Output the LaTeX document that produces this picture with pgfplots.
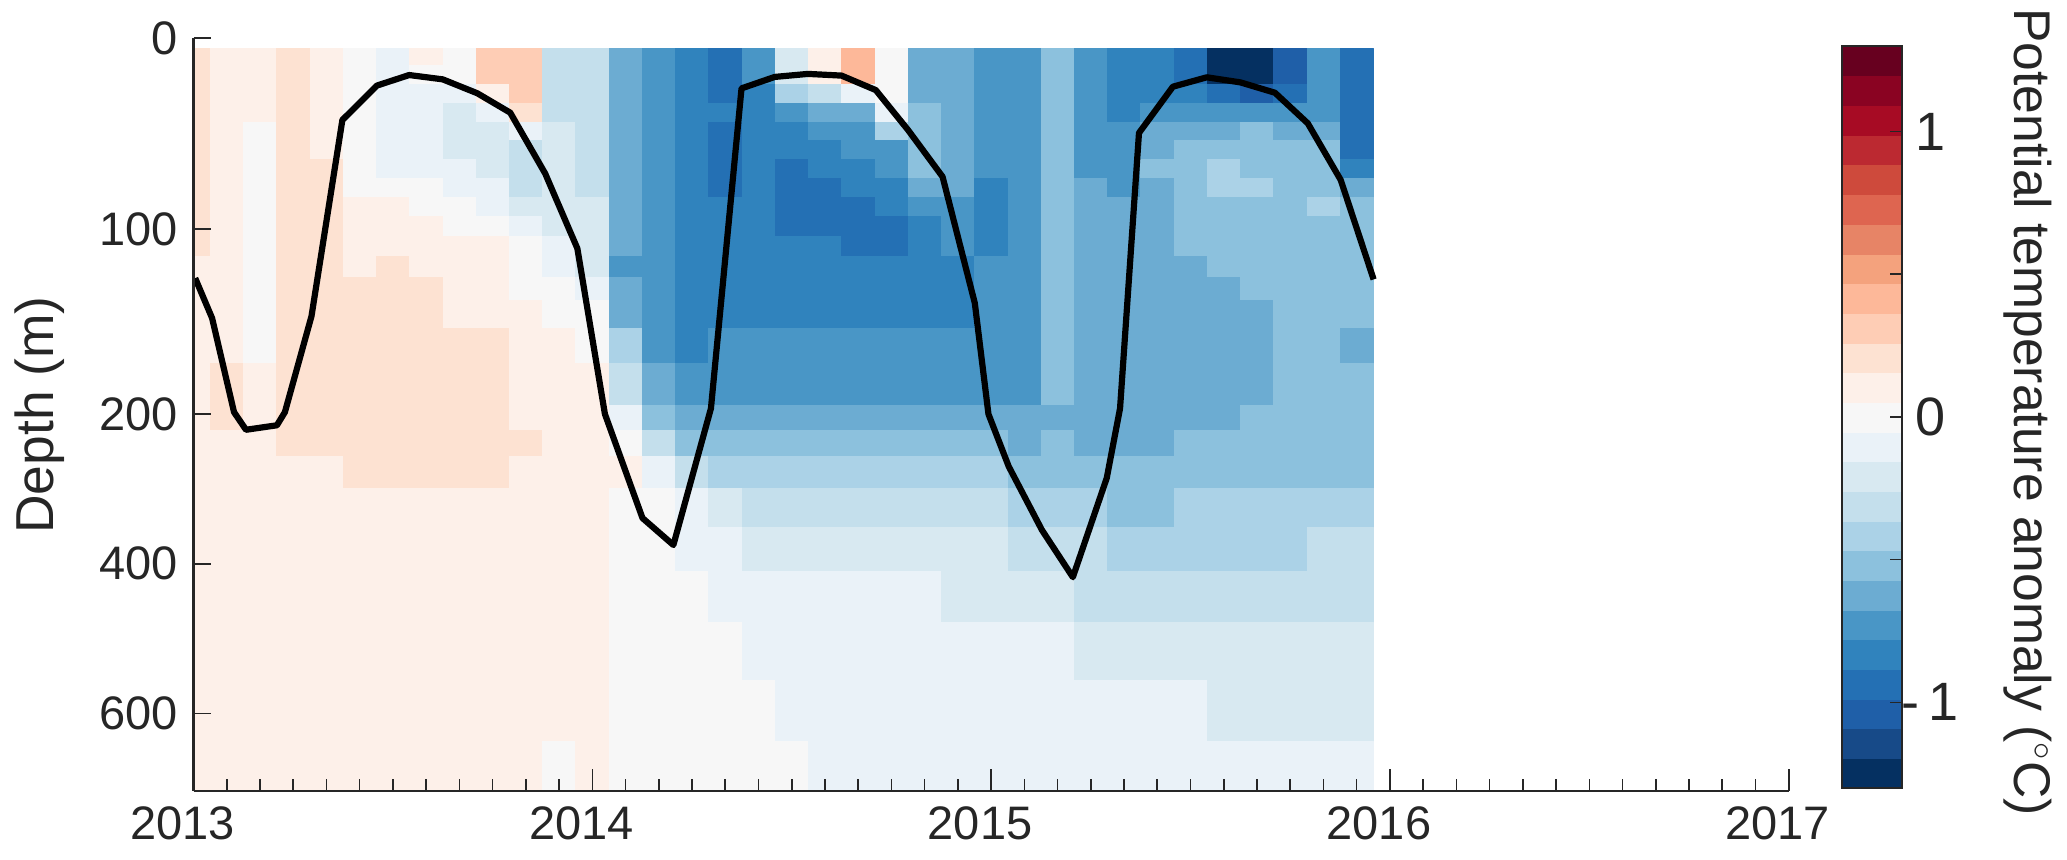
\documentclass[border=0pt]{standalone}
\usepackage{fontspec}
\setmainfont{Liberation Sans}
\usepackage{pgfplots}
\pgfplotsset{compat=1.18}

\definecolor{axisdark}{HTML}{262626}

% row edges of the grid, depth in m
\def\D{{5.2,14.4,24.5,34.7,44.7,54.6,64.5,74.8,84.7,94.7,105.3,116,127.3,139.7,154.6,172.7,195.2,221.4,255.7,298.5,350.6,409.8,478.3,555.4,636.9,703.7}}

% colour class of each cell (0 = coldest, 12 = about zero, 24 = warmest), one line per month, top to bottom
\def\cells{
{14,14,14,14,14,14,14,14,14,14,14,13,13,13,13,13,13,13,13,13,13,13,13,13,13},
{13,13,13,13,13,13,13,13,13,13,13,13,13,13,13,14,14,13,13,13,13,13,13,13,13},
{13,13,13,13,12,12,12,12,12,12,12,12,12,12,12,13,13,13,13,13,13,13,13,13,13},
{14,14,14,14,14,14,14,14,14,14,14,14,14,14,14,14,14,14,13,13,13,13,13,13,13},
{13,13,13,13,13,13,14,14,14,14,14,14,14,14,14,14,14,14,13,13,13,13,13,13,13},
{12,12,12,12,12,12,12,12,13,13,13,13,14,14,14,14,14,14,14,13,13,13,13,13,13},
{11,11,11,11,11,11,11,12,13,13,13,14,14,14,14,14,14,14,14,13,13,13,13,13,13},
{13,12,11,11,11,11,11,12,12,13,13,13,14,14,14,14,14,14,14,13,13,13,13,13,13},
{12,12,11,10,10,10,11,11,12,12,13,13,13,13,14,14,14,14,14,13,13,13,13,13,13},
{15,15,13,11,10,10,10,11,11,12,13,13,13,13,14,14,14,14,14,13,13,13,13,13,13},
{15,15,15,14,11,9,9,9,10,11,12,12,12,13,13,13,13,14,13,13,13,13,13,13,13},
{9,9,9,9,10,10,10,10,10,10,11,11,12,12,13,13,13,13,13,13,13,13,13,13,12},
{9,9,9,9,9,9,9,9,10,10,10,10,11,12,12,13,13,13,13,13,13,13,13,13,13},
{6,6,6,6,6,6,6,6,6,6,6,5,6,6,8,9,11,12,13,12,12,12,12,12,12},
{5,5,5,5,5,5,5,5,5,5,5,5,5,5,5,6,7,9,11,12,12,12,12,12,12},
{4,4,4,4,4,4,4,4,4,4,4,4,4,4,4,5,6,7,9,11,11,12,12,12,12},
{3,3,3,4,3,3,3,3,4,4,4,4,4,4,5,5,6,7,8,10,11,11,12,12,12},
{5,5,4,4,4,4,4,4,4,4,4,4,4,4,5,5,6,7,8,9,10,11,11,12,12},
{10,10,8,5,4,4,3,3,3,3,4,4,4,4,5,5,6,7,8,9,10,11,11,11,12},
{13,13,9,6,5,4,4,3,3,3,4,4,4,4,5,5,6,7,8,9,10,11,11,11,11},
{16,16,11,6,5,5,4,4,3,3,3,4,4,4,5,5,6,7,8,9,10,11,11,11,11},
{12,12,12,11,8,5,5,4,4,3,3,4,4,4,5,5,6,7,8,9,10,11,11,11,11},
{6,6,6,7,7,7,7,6,5,4,4,4,4,4,5,5,6,7,8,9,10,11,11,11,11},
{6,6,6,6,6,6,6,6,5,5,5,4,4,4,5,5,6,7,8,9,10,10,11,11,11},
{5,5,5,5,5,5,5,4,4,4,4,5,5,5,5,5,6,7,8,9,10,10,11,11,11},
{5,5,5,5,5,5,5,5,5,5,5,5,5,5,5,5,6,6,7,8,9,10,11,11,11},
{7,7,7,7,7,7,7,7,7,7,7,7,7,7,7,7,6,7,7,8,9,10,11,11,11},
{5,5,5,5,5,5,5,6,6,6,6,6,6,6,6,6,6,6,7,8,9,9,10,11,11},
{4,4,4,4,5,5,5,5,6,6,6,6,6,6,6,6,6,6,7,7,8,9,10,11,11},
{4,4,4,5,6,6,7,6,6,6,6,6,6,6,6,6,6,6,7,7,8,9,10,11,11},
{3,3,4,5,6,7,7,7,7,7,7,6,6,6,6,6,6,7,7,8,8,9,10,11,11},
{0,0,3,5,6,7,8,8,7,7,7,7,6,6,6,6,6,7,7,8,8,9,10,10,11},
{0,0,2,5,7,7,7,8,7,7,7,7,7,6,6,6,7,7,7,8,8,9,10,10,11},
{2,2,3,5,6,7,7,7,7,7,7,7,7,7,7,7,7,7,7,8,8,9,10,10,11},
{5,5,5,5,6,7,7,7,8,7,7,7,7,7,7,7,7,7,7,8,9,9,10,10,11},
{3,3,3,3,3,3,4,6,7,7,7,7,7,7,6,7,7,7,7,8,9,9,10,10,11}}

\pgfplotsset{
  colormap={anomaly}{
    rgb255=(5,48,97) rgb255=(23,74,136) rgb255=(31,95,168) rgb255=(36,112,180)
    rgb255=(48,131,189) rgb255=(73,150,198) rgb255=(108,172,210) rgb255=(140,193,221)
    rgb255=(171,210,231) rgb255=(196,223,236) rgb255=(216,233,241) rgb255=(234,242,248)
    rgb255=(247,247,247) rgb255=(253,240,233) rgb255=(253,226,210) rgb255=(254,205,181)
    rgb255=(253,184,153) rgb255=(244,162,125) rgb255=(231,132,102) rgb255=(222,101,80)
    rgb255=(206,74,60) rgb255=(188,41,49) rgb255=(167,11,36) rgb255=(138,3,34)
    rgb255=(103,0,31)
  },
  colormap access=piecewise constant,
  point meta min=0, point meta max=25,
  tick style={axisdark, line width=0.8pt},
  axis line style={axisdark, line width=1.3pt},
  every tick label/.append style={text=axisdark},
}

\begin{document}
\begin{tikzpicture}[x=1pt,y=1pt]
\path[use as bounding box] (0,0) rectangle (1033.5,430);

\begin{axis}[
  at={(96.75pt,34.5pt)}, anchor=south west,
  width=797.6pt, height=376.5pt, scale only axis,
  axis on top,
  axis x line*=bottom, axis y line*=left,
  axis line style={-},
  y dir=reverse,
  y coord trafo/.code={\pgfmathparse{#1<=200?#1:200+(#1-200)*0.398}},
  xmin=0, xmax=48, ymin=0, ymax=703.7,
  xtick={0,12,24,36,48},
  xticklabels={2013,2014,2015,2016,2017},
  minor xtick={0,...,48},
  ytick=\empty,
  extra y ticks={0,101.5,200,400,600},
  extra y tick labels={\raisebox{-2pt}{0},100,200,400,600},
  extra y tick style={tickwidth=8.5pt},
  tick align=inside,
  major tick length=11pt, minor tick length=6pt,
  tick label style={font=\fontsize{23.5}{28}\selectfont},
  xticklabel style={xshift=-5.5pt, yshift=-4.5pt},
  yticklabel style={xshift=-4.5pt},
]
\foreach \col [count=\m from 0] in \cells {
  \gdef\coords{}
  \pgfmathsetmacro\xA{\m-0.5}
  \pgfmathsetmacro\xB{\m+0.5}
  \foreach \c [count=\r from 0] in \col {
    \pgfmathtruncatemacro\s{\r+1}
    \pgfmathsetmacro\yA{\D[\r]}
    \pgfmathsetmacro\yB{\D[\s]}
    \xdef\coords{\coords (\xA,\yA) [\c.5] (\xB,\yA) [\c.5] (\xB,\yB) [\c.5] (\xA,\yB) [\c.5] }
  }
  \edef\temp{\noexpand\addplot[patch, patch type=rectangle, shader=flat, point meta=explicit, line width=0.2pt, forget plot] coordinates {\coords};}
  \temp
}
% mixed layer depth
\addplot[black, line width=3.1pt, line join=round] coordinates {
  (0.05,127.7) (0.56,149) (1.22,199) (1.58,221) (2.51,215) (2.75,199)
  (3.55,148) (4.48,43.6) (5.52,25.3) (6.49,19.7) (7.5,22) (8.54,29.4)
  (9.53,39.7) (10.58,72) (11.55,111.9) (12.38,200) (13.51,339) (14.44,375)
  (15.57,197) (16.49,26.8) (17.49,20.7) (18.49,19.1) (19.5,20) (20.53,27.7)
  (21.5,48.9) (22.54,73.8) (23.51,141) (23.92,200) (24.53,270) (25.53,355)
  (26.46,418) (27.48,285.5) (27.88,197) (28.45,50.5) (29.47,25.9) (30.49,20.9)
  (31.5,23.6) (32.54,29.1) (33.53,45.4) (34.52,75.5) (35.51,128.4)
};
\end{axis}

% colour bar
\begin{axis}[
  at={(921pt,36pt)}, anchor=south west,
  width=30pt, height=371pt, scale only axis,
  axis on top,
  xmin=0, xmax=1, ymin=-1.3, ymax=1.3,
  xtick=\empty,
  ytick={-1,-0.5,0,0.5,1},
  yticklabels={-\hspace{5pt}1,,0,,1},
  ytick pos=right,
  tick align=inside,
  major tick length=6pt,
  axis line style={axisdark, line width=0.8pt},
  yticklabel style={font=\fontsize{27}{30}\selectfont, anchor=center, xshift=14pt},
  point meta min=0, point meta max=25,
]
\foreach \c in {0,...,24} {
  \pgfmathsetmacro\yA{-1.3+0.104*\c}
  \pgfmathsetmacro\yB{-1.3+0.104*(\c+1)}
  \edef\temp{\noexpand\addplot[patch, patch type=rectangle, shader=flat, point meta=explicit, line width=0.2pt, forget plot] coordinates {(0,\yA) [\c.5] (1,\yA) [\c.5] (1,\yB) [\c.5] (0,\yB) [\c.5]};}
  \temp
}
\end{axis}

\node[rotate=90, font=\fontsize{26.7}{30}\selectfont, text=axisdark] at (20,222.5) {Depth (m)};
\node[rotate=-90, font=\fontsize{25.8}{30}\selectfont, text=axisdark] at (1014,224) {Potential temperature anomaly ($^{\circ}$C)};
\end{tikzpicture}
\end{document}
